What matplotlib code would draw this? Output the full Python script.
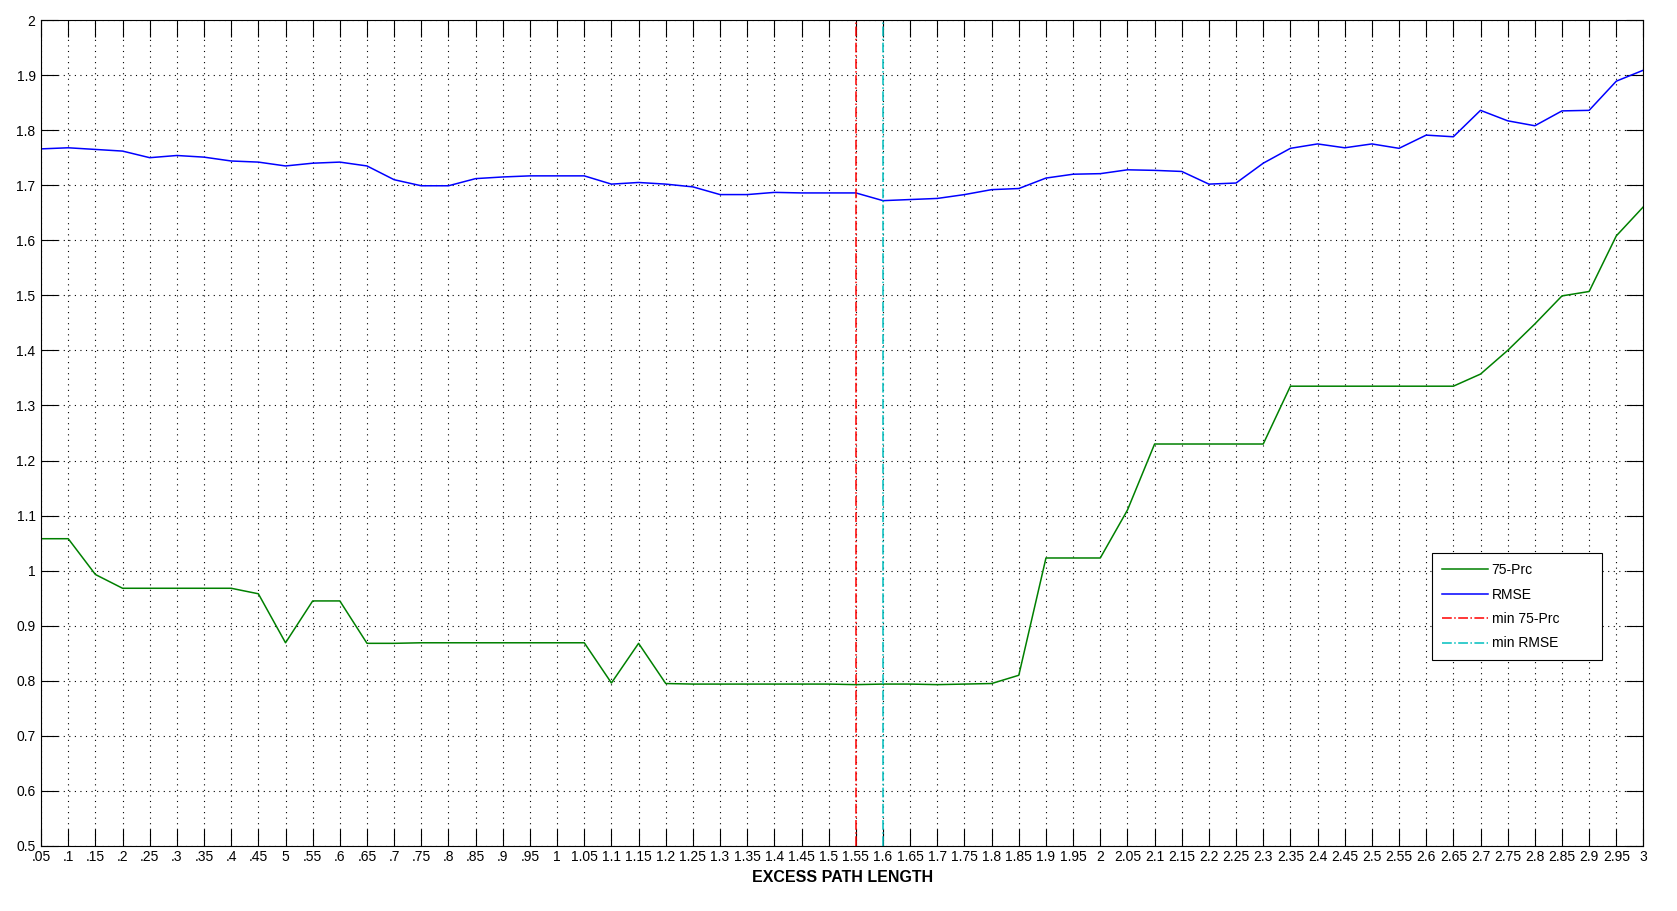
import numpy as np
import matplotlib
matplotlib.use('Agg')
import matplotlib.pyplot as plt

# excess path length .05 .. 3 in 0.05 steps
x = np.round(np.arange(1, 61) * 0.05, 2)

rmse = [1.766, 1.768, 1.765, 1.762, 1.750, 1.754, 1.751, 1.744, 1.742, 1.735,
        1.740, 1.742, 1.735, 1.710, 1.699, 1.699, 1.712, 1.715, 1.717, 1.717,
        1.717, 1.702, 1.705, 1.702, 1.697, 1.683, 1.683, 1.687, 1.686, 1.686,
        1.686, 1.672, 1.674, 1.676, 1.683, 1.692, 1.694, 1.713, 1.720, 1.721,
        1.728, 1.727, 1.725, 1.702, 1.704, 1.740, 1.767, 1.775, 1.768, 1.775,
        1.767, 1.791, 1.788, 1.836, 1.817, 1.808, 1.835, 1.836, 1.889, 1.909]

prc75 = [1.058, 1.058, 0.993, 0.968, 0.968, 0.968, 0.968, 0.968, 0.958, 0.869,
         0.945, 0.945, 0.868, 0.868, 0.869, 0.869, 0.869, 0.869, 0.869, 0.869,
         0.869, 0.796, 0.868, 0.795, 0.794, 0.794, 0.794, 0.794, 0.794, 0.794,
         0.793, 0.794, 0.794, 0.793, 0.794, 0.795, 0.810, 1.023, 1.023, 1.023,
         1.110, 1.230, 1.230, 1.230, 1.230, 1.230, 1.335, 1.335, 1.335, 1.335,
         1.335, 1.335, 1.335, 1.357, 1.400, 1.448, 1.499, 1.507, 1.608, 1.661]

min_prc = 1.55
min_rmse = 1.6

xlabels = ['.05', '.1', '.15', '.2', '.25', '.3', '.35', '.4', '.45', '5',
           '.55', '.6', '.65', '.7', '.75', '.8', '.85', '.9', '.95', '1',
           '1.05', '1.1', '1.15', '1.2', '1.25', '1.3', '1.35', '1.4', '1.45', '1.5',
           '1.55', '1.6', '1.65', '1.7', '1.75', '1.8', '1.85', '1.9', '1.95', '2',
           '2.05', '2.1', '2.15', '2.2', '2.25', '2.3', '2.35', '2.4', '2.45', '2.5',
           '2.55', '2.6', '2.65', '2.7', '2.75', '2.8', '2.85', '2.9', '2.95', '3']
yticks = np.round(np.arange(0.5, 2.01, 0.1), 1)
ylabels = ['0.5', '0.6', '0.7', '0.8', '0.9', '1', '1.1', '1.2', '1.3', '1.4',
           '1.5', '1.6', '1.7', '1.8', '1.9', '2']

plt.rcParams['font.family'] = ['Liberation Sans', 'DejaVu Sans']
plt.rcParams['font.size'] = 10

fig = plt.figure(figsize=(16.77, 9.11), dpi=100)
ax = fig.add_axes([0.0245, 0.0714, 0.9555, 0.9066])

ax.plot(x, prc75, color='#008000', lw=1.1, label='75-Prc')
ax.plot(x, rmse, color='#0000ff', lw=1.1, label='RMSE')
ax.axvline(min_prc, color='#ff0000', lw=1.1, ls='-.', label='min 75-Prc')
ax.axvline(min_rmse, color='#00bfbf', lw=1.1, ls='-.', label='min RMSE')

ax.set_xlim(0.05, 3)
ax.set_ylim(0.5, 2)
ax.set_xticks(x)
ax.set_xticklabels(xlabels)
ax.set_yticks(yticks)
ax.set_yticklabels(ylabels)
ax.tick_params(direction='in', length=12, width=0.8, top=True, right=True,
               colors='black')
ax.tick_params(axis='x', pad=3)
ax.tick_params(axis='y', pad=4)
ax.grid(True, ls=(0, (1, 4)), color='black', lw=0.8)
for s in ax.spines.values():
    s.set_linewidth(0.8)

ax.set_xlabel('EXCESS PATH LENGTH', fontweight='bold', fontsize=11.5, labelpad=4)

leg = ax.legend(loc='lower left', bbox_to_anchor=(0.868, 0.225, 0.106, 0.126),
                mode='expand', fancybox=False,
                edgecolor='black', framealpha=1, borderaxespad=0,
                handlelength=3.3, labelspacing=0.75, borderpad=0.7,
                handletextpad=0.3)
leg.get_frame().set_linewidth(0.8)

fig.savefig('out.png', dpi=100)
